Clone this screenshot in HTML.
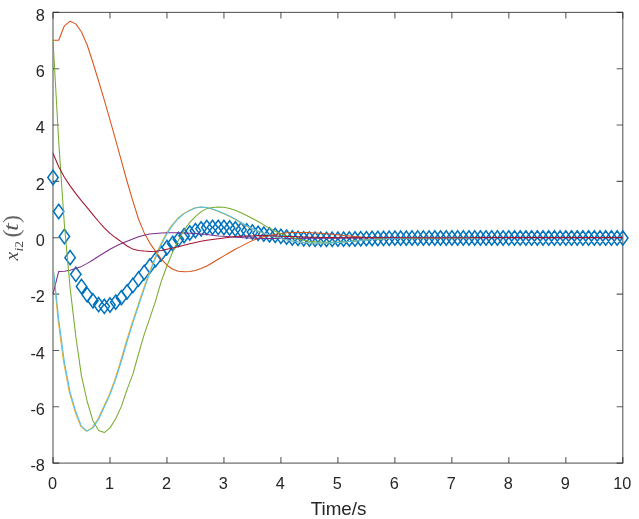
<!DOCTYPE html>
<html><head><meta charset="utf-8"><title>Plot</title>
<style>html,body{margin:0;padding:0;background:#fff;overflow:hidden}svg{display:block}</style>
</head><body>
<svg width="639" height="519" viewBox="0 0 639 519">
<rect width="639" height="519" fill="#fff"/>
<rect x="53.0" y="12.4" width="569.8" height="450.70000000000005" fill="none" stroke="#262626" stroke-width="1.1" opacity="0.75"/>
<path d="M53.00 463.1v-6.2M53.00 12.4v6.2M109.98 463.1v-6.2M109.98 12.4v6.2M166.96 463.1v-6.2M166.96 12.4v6.2M223.94 463.1v-6.2M223.94 12.4v6.2M280.92 463.1v-6.2M280.92 12.4v6.2M337.90 463.1v-6.2M337.90 12.4v6.2M394.88 463.1v-6.2M394.88 12.4v6.2M451.86 463.1v-6.2M451.86 12.4v6.2M508.84 463.1v-6.2M508.84 12.4v6.2M565.82 463.1v-6.2M565.82 12.4v6.2M622.80 463.1v-6.2M622.80 12.4v6.2M53.0 463.10h6.2M622.8 463.10h-6.2M53.0 406.76h6.2M622.8 406.76h-6.2M53.0 350.43h6.2M622.8 350.43h-6.2M53.0 294.09h6.2M622.8 294.09h-6.2M53.0 237.75h6.2M622.8 237.75h-6.2M53.0 181.41h6.2M622.8 181.41h-6.2M53.0 125.07h6.2M622.8 125.07h-6.2M53.0 68.74h6.2M622.8 68.74h-6.2M53.0 12.40h6.2M622.8 12.40h-6.2" stroke="#262626" stroke-width="1.1" fill="none" opacity="0.75"/>
<g font-family="Liberation Sans, sans-serif" font-size="16.3" fill="#262626"><text x="52.5" y="488.6" text-anchor="middle">0</text><text x="109.5" y="488.6" text-anchor="middle">1</text><text x="166.5" y="488.6" text-anchor="middle">2</text><text x="223.4" y="488.6" text-anchor="middle">3</text><text x="280.4" y="488.6" text-anchor="middle">4</text><text x="337.4" y="488.6" text-anchor="middle">5</text><text x="394.4" y="488.6" text-anchor="middle">6</text><text x="451.4" y="488.6" text-anchor="middle">7</text><text x="508.3" y="488.6" text-anchor="middle">8</text><text x="565.3" y="488.6" text-anchor="middle">9</text><text x="622.3" y="488.6" text-anchor="middle">10</text><text x="44.9" y="471.2" text-anchor="end">-8</text><text x="44.9" y="414.9" text-anchor="end">-6</text><text x="44.9" y="358.5" text-anchor="end">-4</text><text x="44.9" y="302.2" text-anchor="end">-2</text><text x="44.9" y="245.8" text-anchor="end">0</text><text x="44.9" y="189.5" text-anchor="end">2</text><text x="44.9" y="133.2" text-anchor="end">4</text><text x="44.9" y="76.8" text-anchor="end">6</text><text x="44.9" y="20.5" text-anchor="end">8</text></g>
<text x="338.6" y="515" text-anchor="middle" font-family="Liberation Sans, sans-serif" font-size="18.4" textLength="55.8" lengthAdjust="spacingAndGlyphs" fill="#262626">Time/s</text>
<g transform="translate(18,260.4) rotate(-90)" font-family="Liberation Serif, serif" fill="#4a4a4a"><text x="0" y="0" font-style="italic" font-size="19.5">x</text><text x="8.9" y="4.6" font-style="italic" font-size="13.5">i</text><text x="12.6" y="4.6" font-size="13.5">2</text><text x="22.9" y="1.3" font-size="23.8" fill="#636363">(</text><text transform="translate(29.4,0) scale(1.25,1)" font-style="italic" font-size="22" fill="#585858">t</text><text x="37.5" y="1.3" font-size="23.8" fill="#636363">)</text></g>
<path d="M53.0 170.3l5.2 7.15l-5.2 7.15l-5.2 -7.15zM58.7 204.3l5.2 7.15l-5.2 7.15l-5.2 -7.15zM64.4 229.3l5.2 7.15l-5.2 7.15l-5.2 -7.15zM70.1 250.5l5.2 7.15l-5.2 7.15l-5.2 -7.15zM75.8 267.2l5.2 7.15l-5.2 7.15l-5.2 -7.15zM81.5 279.4l5.2 7.15l-5.2 7.15l-5.2 -7.15zM87.2 287.6l5.2 7.15l-5.2 7.15l-5.2 -7.15zM92.9 293.6l5.2 7.15l-5.2 7.15l-5.2 -7.15zM98.6 297.5l5.2 7.15l-5.2 7.15l-5.2 -7.15zM104.3 299.2l5.2 7.15l-5.2 7.15l-5.2 -7.15zM110.0 297.9l5.2 7.15l-5.2 7.15l-5.2 -7.15zM115.7 295.0l5.2 7.15l-5.2 7.15l-5.2 -7.15zM121.4 290.5l5.2 7.15l-5.2 7.15l-5.2 -7.15zM127.1 284.7l5.2 7.15l-5.2 7.15l-5.2 -7.15zM132.8 278.4l5.2 7.15l-5.2 7.15l-5.2 -7.15zM138.5 271.9l5.2 7.15l-5.2 7.15l-5.2 -7.15zM144.2 265.4l5.2 7.15l-5.2 7.15l-5.2 -7.15zM149.9 258.9l5.2 7.15l-5.2 7.15l-5.2 -7.15zM155.6 252.5l5.2 7.15l-5.2 7.15l-5.2 -7.15zM161.3 246.3l5.2 7.15l-5.2 7.15l-5.2 -7.15zM167.0 240.4l5.2 7.15l-5.2 7.15l-5.2 -7.15zM172.7 236.3l5.2 7.15l-5.2 7.15l-5.2 -7.15zM178.4 232.2l5.2 7.15l-5.2 7.15l-5.2 -7.15zM184.1 228.5l5.2 7.15l-5.2 7.15l-5.2 -7.15zM189.8 225.8l5.2 7.15l-5.2 7.15l-5.2 -7.15zM195.4 223.5l5.2 7.15l-5.2 7.15l-5.2 -7.15zM201.1 221.7l5.2 7.15l-5.2 7.15l-5.2 -7.15zM206.8 220.4l5.2 7.15l-5.2 7.15l-5.2 -7.15zM212.5 220.2l5.2 7.15l-5.2 7.15l-5.2 -7.15zM218.2 220.2l5.2 7.15l-5.2 7.15l-5.2 -7.15zM223.9 220.3l5.2 7.15l-5.2 7.15l-5.2 -7.15zM229.6 220.8l5.2 7.15l-5.2 7.15l-5.2 -7.15zM235.3 221.7l5.2 7.15l-5.2 7.15l-5.2 -7.15zM241.0 222.7l5.2 7.15l-5.2 7.15l-5.2 -7.15zM246.7 223.8l5.2 7.15l-5.2 7.15l-5.2 -7.15zM252.4 224.9l5.2 7.15l-5.2 7.15l-5.2 -7.15zM258.1 226.2l5.2 7.15l-5.2 7.15l-5.2 -7.15zM263.8 227.0l5.2 7.15l-5.2 7.15l-5.2 -7.15zM269.5 227.7l5.2 7.15l-5.2 7.15l-5.2 -7.15zM275.2 228.2l5.2 7.15l-5.2 7.15l-5.2 -7.15zM280.9 229.2l5.2 7.15l-5.2 7.15l-5.2 -7.15zM286.6 230.0l5.2 7.15l-5.2 7.15l-5.2 -7.15zM292.3 230.8l5.2 7.15l-5.2 7.15l-5.2 -7.15zM298.0 231.2l5.2 7.15l-5.2 7.15l-5.2 -7.15zM303.7 231.7l5.2 7.15l-5.2 7.15l-5.2 -7.15zM309.4 231.9l5.2 7.15l-5.2 7.15l-5.2 -7.15zM315.1 232.1l5.2 7.15l-5.2 7.15l-5.2 -7.15zM320.8 232.1l5.2 7.15l-5.2 7.15l-5.2 -7.15zM326.5 232.2l5.2 7.15l-5.2 7.15l-5.2 -7.15zM332.2 232.1l5.2 7.15l-5.2 7.15l-5.2 -7.15zM337.9 232.0l5.2 7.15l-5.2 7.15l-5.2 -7.15zM343.6 232.0l5.2 7.15l-5.2 7.15l-5.2 -7.15zM349.3 231.9l5.2 7.15l-5.2 7.15l-5.2 -7.15zM355.0 231.8l5.2 7.15l-5.2 7.15l-5.2 -7.15zM360.7 231.6l5.2 7.15l-5.2 7.15l-5.2 -7.15zM366.4 231.5l5.2 7.15l-5.2 7.15l-5.2 -7.15zM372.1 231.3l5.2 7.15l-5.2 7.15l-5.2 -7.15zM377.8 231.3l5.2 7.15l-5.2 7.15l-5.2 -7.15zM383.5 231.2l5.2 7.15l-5.2 7.15l-5.2 -7.15zM389.2 231.1l5.2 7.15l-5.2 7.15l-5.2 -7.15zM394.9 231.0l5.2 7.15l-5.2 7.15l-5.2 -7.15zM400.6 231.0l5.2 7.15l-5.2 7.15l-5.2 -7.15zM406.3 231.0l5.2 7.15l-5.2 7.15l-5.2 -7.15zM412.0 230.9l5.2 7.15l-5.2 7.15l-5.2 -7.15zM417.7 230.9l5.2 7.15l-5.2 7.15l-5.2 -7.15zM423.4 230.9l5.2 7.15l-5.2 7.15l-5.2 -7.15zM429.1 230.9l5.2 7.15l-5.2 7.15l-5.2 -7.15zM434.8 230.8l5.2 7.15l-5.2 7.15l-5.2 -7.15zM440.5 230.8l5.2 7.15l-5.2 7.15l-5.2 -7.15zM446.2 230.8l5.2 7.15l-5.2 7.15l-5.2 -7.15zM451.9 230.8l5.2 7.15l-5.2 7.15l-5.2 -7.15zM457.6 230.8l5.2 7.15l-5.2 7.15l-5.2 -7.15zM463.3 230.8l5.2 7.15l-5.2 7.15l-5.2 -7.15zM469.0 230.8l5.2 7.15l-5.2 7.15l-5.2 -7.15zM474.7 230.8l5.2 7.15l-5.2 7.15l-5.2 -7.15zM480.4 230.8l5.2 7.15l-5.2 7.15l-5.2 -7.15zM486.0 230.8l5.2 7.15l-5.2 7.15l-5.2 -7.15zM491.7 230.8l5.2 7.15l-5.2 7.15l-5.2 -7.15zM497.4 230.8l5.2 7.15l-5.2 7.15l-5.2 -7.15zM503.1 230.8l5.2 7.15l-5.2 7.15l-5.2 -7.15zM508.8 230.8l5.2 7.15l-5.2 7.15l-5.2 -7.15zM514.5 230.8l5.2 7.15l-5.2 7.15l-5.2 -7.15zM520.2 230.8l5.2 7.15l-5.2 7.15l-5.2 -7.15zM525.9 230.8l5.2 7.15l-5.2 7.15l-5.2 -7.15zM531.6 230.8l5.2 7.15l-5.2 7.15l-5.2 -7.15zM537.3 230.8l5.2 7.15l-5.2 7.15l-5.2 -7.15zM543.0 230.8l5.2 7.15l-5.2 7.15l-5.2 -7.15zM548.7 230.8l5.2 7.15l-5.2 7.15l-5.2 -7.15zM554.4 230.8l5.2 7.15l-5.2 7.15l-5.2 -7.15zM560.1 230.8l5.2 7.15l-5.2 7.15l-5.2 -7.15zM565.8 230.8l5.2 7.15l-5.2 7.15l-5.2 -7.15zM571.5 230.8l5.2 7.15l-5.2 7.15l-5.2 -7.15zM577.2 230.8l5.2 7.15l-5.2 7.15l-5.2 -7.15zM582.9 230.8l5.2 7.15l-5.2 7.15l-5.2 -7.15zM588.6 230.8l5.2 7.15l-5.2 7.15l-5.2 -7.15zM594.3 230.8l5.2 7.15l-5.2 7.15l-5.2 -7.15zM600.0 230.8l5.2 7.15l-5.2 7.15l-5.2 -7.15zM605.7 230.8l5.2 7.15l-5.2 7.15l-5.2 -7.15zM611.4 230.8l5.2 7.15l-5.2 7.15l-5.2 -7.15zM617.1 230.8l5.2 7.15l-5.2 7.15l-5.2 -7.15zM622.8 230.8l5.2 7.15l-5.2 7.15l-5.2 -7.15z" fill="none" stroke="#0072BD" stroke-width="1.5" stroke-linejoin="miter"/>
<g>
<polyline points="53.0,40.3 58.7,40.3 64.4,25.8 70.1,21.2 75.8,23.9 81.5,32.0 87.2,45.0 92.9,62.5 98.6,81.0 104.3,100.2 110.0,119.9 115.7,140.1 121.4,160.8 127.1,181.5 132.8,200.9 138.5,219.0 144.2,232.9 149.9,243.1 155.6,251.4 161.3,259.1 167.0,265.2 172.7,269.2 178.4,271.2 184.1,271.8 189.8,271.6 195.4,270.5 201.1,268.5 206.8,266.0 212.5,262.7 218.2,259.3 223.9,255.9 229.6,252.5 235.3,249.2 241.0,246.4 246.7,243.4 252.4,240.6 258.1,238.4 263.8,236.7 269.5,235.4 275.2,234.3 280.9,233.4 286.6,232.7 292.3,232.5 298.0,232.4 303.7,232.4 309.4,232.6 315.1,232.9 320.8,233.3 326.5,233.7 332.2,234.2 337.9,234.8 343.6,235.4 349.3,235.9 355.0,236.5 360.7,237.0 366.4,237.4 372.1,237.8 377.8,238.0 383.5,238.2 389.2,238.3 394.9,238.4 400.6,238.4 406.3,238.4 412.0,238.3 417.7,238.3 423.4,238.2 429.1,238.1 434.8,238.0 440.5,237.9 446.2,237.8 451.9,237.8 457.6,237.7 463.3,237.7 469.0,237.7 474.7,237.7 480.4,237.7" fill="none" stroke="#D95319" stroke-width="1.05" stroke-linejoin="round"/>
<polyline points="53.0,266.0 57.9,319.0 63.6,362.1 69.3,392.2 75.0,411.7 80.7,426.4 86.4,431.1 92.1,427.9 97.8,419.3 103.5,407.0 109.2,394.6 114.9,379.4 120.6,361.0 126.3,341.5 132.0,323.2 137.7,305.8 143.4,288.8 149.1,272.9 154.8,257.9 160.5,244.4 166.2,233.6 171.9,225.1 177.6,218.5 183.3,213.6 189.0,210.6 194.6,208.0 200.3,207.1 206.0,207.6 211.7,208.9 217.4,211.0 223.1,213.4 228.8,216.0 234.5,219.0 240.2,222.5 245.9,225.8 251.6,228.5 257.3,231.0 263.0,233.1 268.7,235.1 274.4,236.7 280.1,238.2 285.8,239.8 291.5,241.0 297.2,241.8 302.9,242.4 308.6,242.8 314.3,243.0 320.0,243.0 325.7,242.9 331.4,242.7 337.1,242.5 342.8,242.1 348.5,241.6 354.2,241.1 359.9,240.5 365.6,240.0 371.3,239.5 377.0,239.1 382.7,238.8 388.4,238.6 394.1,238.4 399.8,238.3 405.5,238.1 411.2,238.0 416.9,237.8 422.6,237.8 428.3,237.7 434.0,237.7 439.7,237.7 445.4,237.7" fill="none" stroke="#EDB120" stroke-width="1.05" stroke-linejoin="round"/>
<polyline points="53.0,294.0 58.7,271.4 64.4,271.2 70.1,270.2 75.8,268.6 81.5,266.4 87.2,263.4 92.9,260.0 98.6,256.2 104.3,252.8 110.0,249.3 115.7,246.2 121.4,243.6 127.1,241.3 132.8,239.1 138.5,236.8 144.2,235.2 149.9,234.1 155.6,233.5 161.3,233.0 167.0,232.8 172.7,232.8 178.4,232.8 184.1,232.9 189.8,233.2 195.4,233.6 201.1,234.0 206.8,234.6 212.5,235.3 218.2,235.9 223.9,236.3 229.6,236.8 235.3,237.2 241.0,237.6 246.7,237.9 252.4,238.1 258.1,238.3 263.8,238.4 269.5,238.5 275.2,238.5 280.9,238.5 286.6,238.5 292.3,238.4 298.0,238.4 303.7,238.4 309.4,238.3 315.1,238.3 320.8,238.2 326.5,238.1 332.2,238.1 337.9,238.0 343.6,238.0 349.3,238.0 355.0,237.9 360.7,237.9 366.4,237.8 372.1,237.8 377.8,237.8 383.5,237.7 389.2,237.7 394.9,237.7 400.6,237.7 406.3,237.7 412.0,237.7 417.7,237.7 423.4,237.7 429.1,237.7 434.8,237.7 440.5,237.7 446.2,237.7" fill="none" stroke="#7E2F8E" stroke-width="1.05" stroke-linejoin="round"/>
<polyline points="53.0,40.3 58.7,141.2 64.4,225.0 70.1,287.6 75.8,336.4 81.5,376.1 87.2,401.5 92.9,420.7 98.6,430.4 104.3,432.6 110.0,427.9 115.7,418.8 121.4,406.4 127.1,389.4 132.8,374.4 138.5,354.0 144.2,334.4 149.9,317.9 155.6,300.9 161.3,281.2 167.0,265.8 172.7,251.8 178.4,240.2 184.1,230.2 189.8,222.4 195.4,216.6 201.1,211.6 206.8,208.6 212.5,207.5 218.2,207.1 223.9,207.3 229.6,208.4 235.3,210.3 241.0,212.7 246.7,215.5 252.4,218.5 258.1,221.5 263.8,224.9 269.5,228.3 275.2,231.2 280.9,233.8 286.6,235.8 292.3,237.5 298.0,238.9 303.7,240.2 309.4,241.2 315.1,241.8 320.8,242.1 326.5,242.3 332.2,242.2 337.9,242.1 343.6,241.8 349.3,241.4 355.0,241.0 360.7,240.5 366.4,240.0 372.1,239.6 377.8,239.2 383.5,238.9 389.2,238.6 394.9,238.4 400.6,238.3 406.3,238.2 412.0,238.1 417.7,238.0 423.4,237.9 429.1,237.8 434.8,237.8 440.5,237.7 446.2,237.7 451.9,237.7 457.6,237.7 463.3,237.7 469.0,237.7 474.7,237.7 480.4,237.7" fill="none" stroke="#77AC30" stroke-width="1.05" stroke-linejoin="round"/>
<polyline points="53.0,266.0 58.7,319.0 64.4,362.1 70.1,392.2 75.8,411.7 81.5,426.4 87.2,431.1 92.9,427.9 98.6,419.3 104.3,407.0 110.0,394.6 115.7,379.4 121.4,361.0 127.1,341.5 132.8,323.2 138.5,305.8 144.2,288.8 149.9,272.9 155.6,257.9 161.3,244.4 167.0,233.6 172.7,225.1 178.4,218.5 184.1,213.6 189.8,210.6 195.4,208.0 201.1,207.1 206.8,207.6 212.5,208.9 218.2,211.0 223.9,213.4 229.6,216.0 235.3,219.0 241.0,222.5 246.7,225.8 252.4,228.5 258.1,231.0 263.8,233.1 269.5,235.1 275.2,236.7 280.9,238.2 286.6,239.8 292.3,241.0 298.0,241.8 303.7,242.4 309.4,242.8 315.1,243.0 320.8,243.0 326.5,242.9 332.2,242.7 337.9,242.5 343.6,242.1 349.3,241.6 355.0,241.1 360.7,240.5 366.4,240.0 372.1,239.5 377.8,239.1 383.5,238.8 389.2,238.6 394.9,238.4 400.6,238.3 406.3,238.1 412.0,238.0 417.7,237.8 423.4,237.8 429.1,237.7 434.8,237.7 440.5,237.7 446.2,237.7 451.9,237.7 457.6,237.7 463.3,237.7 469.0,237.7 474.7,237.7 480.4,237.6" fill="none" stroke="#4DBEEE" stroke-width="1.05" stroke-linejoin="round"/>
<polyline points="53.0,153.3 58.7,166.8 64.4,177.2 70.1,185.9 75.8,193.6 81.5,200.9 87.2,207.7 92.9,214.6 98.6,221.5 104.3,227.9 110.0,233.3 115.7,237.8 121.4,241.9 127.1,246.0 132.8,249.1 138.5,250.5 144.2,251.1 149.9,251.5 155.6,251.2 161.3,250.4 167.0,249.3 172.7,248.1 178.4,246.7 184.1,245.2 189.8,243.7 195.4,242.5 201.1,241.3 206.8,240.3 212.5,239.4 218.2,238.7 223.9,237.9 229.6,237.3 235.3,236.6 241.0,236.2 246.7,236.0 252.4,235.9 258.1,235.6 263.8,235.6 269.5,235.8 275.2,236.0 280.9,236.2 286.6,236.4 292.3,236.6 298.0,236.8 303.7,237.0 309.4,237.2 315.1,237.3 320.8,237.5 326.5,237.6 332.2,237.6 337.9,237.7 343.6,237.8 349.3,237.8 355.0,237.8 360.7,237.8 366.4,237.8 372.1,237.8 377.8,237.7 383.5,237.7 389.2,237.7 394.9,237.7 400.6,237.7 406.3,237.7 412.0,237.7 417.7,237.7 423.4,237.7 429.1,237.7 434.8,237.7 440.5,237.7 446.2,237.7 451.9,237.7 457.6,237.7 463.3,237.7 469.0,237.7 474.7,237.6 480.4,237.6 486.0,237.6 491.7,237.6 497.4,237.6 503.1,237.6 508.8,237.6 514.5,237.6 520.2,237.6 525.9,237.6 531.6,237.6 537.3,237.6 543.0,237.6 548.7,237.6 554.4,237.6 560.1,237.6 565.8,237.6 571.5,237.6 577.2,237.6 582.9,237.6 588.6,237.6 594.3,237.6 600.0,237.6 605.7,237.6 611.4,237.6 617.1,237.6 622.8,237.6" fill="none" stroke="#A2142F" stroke-width="1.05" stroke-linejoin="round"/>
</g>
</svg>
</body></html>
